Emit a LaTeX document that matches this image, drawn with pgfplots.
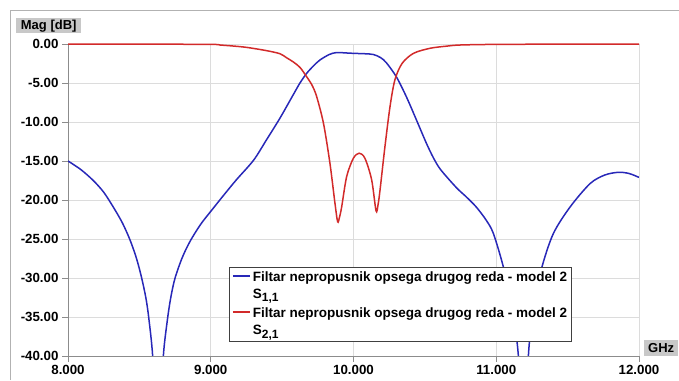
\documentclass[border=0pt]{standalone}
\usepackage{fontspec}
\setmainfont{Liberation Sans}
\usepackage{pgfplots}
\pgfplotsset{compat=1.18}
\definecolor{s11}{HTML}{2828B8}
\definecolor{s21}{HTML}{D22A2A}
\definecolor{gridc}{HTML}{DCDCDC}
\definecolor{axc}{HTML}{8C8C8C}
\definecolor{boxc}{HTML}{C8C8C8}
\newcommand{\sub}[1]{\raisebox{-0.45ex}{\fontsize{12}{12}\selectfont #1}}
\begin{document}
\begin{tikzpicture}[x=1pt,y=1pt,font=\bfseries\fontsize{13}{15}\selectfont]
\useasboundingbox (0,0) rectangle (679,380);
\draw[gray!60, line width=1pt] (10,0) -- (10,369) -- (679,369);
\node[fill=boxc, inner sep=0pt, minimum width=65pt, minimum height=15pt, anchor=north west] at (16,362) {Mag [dB]};
\node[fill=boxc, inner sep=0pt, minimum width=34pt, minimum height=16pt, anchor=south west] at (644,24) {GHz};
\begin{axis}[
  at={(68pt,24pt)}, anchor=south west, scale only axis, width=571pt, height=312pt,
  xmin=8, xmax=12, ymin=-40, ymax=0,
  axis x line*=bottom, axis y line*=left,
  axis line style={axc, line width=0.8pt, -},
  xtick={8,9,10,11,12}, xticklabels={8.000,9.000,10.000,11.000,12.000},
  ytick={-40,-35,-30,-25,-20,-15,-10,-5,0},
  yticklabels={-40.00,-35.00,-30.00,-25.00,-20.00,-15.00,-10.00,-5.00,0.00},
  grid=major, grid style={gridc, line width=0.8pt},
  tick align=outside, major tick length=6pt, tick style={axc, line width=0.8pt},
  ticklabel style={font=\bfseries\fontsize{13.3}{15}\selectfont},
  legend style={at={(rel axis cs:0.282,0.285)}, anchor=north west, draw=black!75, line width=0.6pt,
    cells={align=left, anchor=west}, font=\bfseries\fontsize{13.5}{17}\selectfont, inner sep=2.5pt, row sep=4pt},
  legend image code/.code={\draw[#1, line width=2pt] (0pt,10pt) -- (17pt,10pt);},
]
\addplot[s11, line width=1.5pt, smooth] coordinates {
(8.000,-15.0) (8.090,-16.1) (8.177,-17.5) (8.250,-19.0) (8.317,-20.9) (8.380,-22.9) (8.434,-25.1)
(8.480,-27.5) (8.516,-30.0) (8.545,-32.5) (8.565,-35.0) (8.593,-40.0) (8.610,-48) (8.630,-60)
(8.650,-48) (8.668,-40.0) (8.696,-35.4) (8.720,-32.5) (8.750,-30.0) (8.800,-27.4) (8.855,-25.3)
(8.930,-23.1) (9.007,-21.3) (9.090,-19.4) (9.180,-17.4) (9.300,-14.9) (9.390,-12.3) (9.485,-9.5)
(9.578,-6.5) (9.625,-5.0) (9.672,-3.76) (9.720,-2.8) (9.765,-2.05) (9.830,-1.35) (9.880,-1.1)
(9.950,-1.15) (10.000,-1.2) (10.080,-1.25) (10.140,-1.35) (10.190,-1.75) (10.230,-2.4)
(10.300,-4.2) (10.370,-6.75) (10.440,-9.7) (10.510,-12.7) (10.560,-14.6) (10.610,-16.1)
(10.720,-18.4) (10.790,-19.6) (10.860,-20.9) (10.930,-22.6) (10.980,-24.3) (11.050,-28.6)
(11.110,-33.7) (11.155,-40) (11.175,-50) (11.190,-60) (11.205,-50) (11.225,-40) (11.260,-33.7)
(11.320,-28.6) (11.400,-24.3) (11.517,-20.9) (11.657,-17.9) (11.760,-16.8) (11.855,-16.45)
(11.930,-16.6) (12.000,-17.1)
};
\addlegendentry{Filtar nepropusnik opsega drugog reda - model 2\\S\sub{1,1}}
\addplot[s21, line width=1.5pt, smooth] coordinates {
(8.000,-0.02) (8.500,-0.02) (9.000,-0.05) (9.065,-0.13) (9.150,-0.25) (9.250,-0.43) (9.390,-0.85)
(9.485,-1.25) (9.530,-1.75) (9.578,-2.3) (9.625,-3.0) (9.672,-4.2) (9.710,-5.3) (9.742,-6.75)
(9.790,-10.2) (9.835,-15.3) (9.870,-20.4) (9.889,-22.8) (9.902,-22.2) (9.917,-20.9) (9.952,-17.0)
(9.999,-14.65) (10.040,-14.0) (10.080,-14.65) (10.127,-17.4) (10.158,-21.4) (10.172,-20.6)
(10.186,-18.7) (10.220,-13.2) (10.256,-8.0) (10.290,-4.6) (10.340,-2.5) (10.420,-1.2)
(10.536,-0.55) (10.650,-0.28) (10.746,-0.13) (11.000,-0.05) (11.500,-0.02) (12.000,-0.02)
};
\addlegendentry{Filtar nepropusnik opsega drugog reda - model 2\\S\sub{2,1}}
\end{axis}
\end{tikzpicture}
\end{document}
